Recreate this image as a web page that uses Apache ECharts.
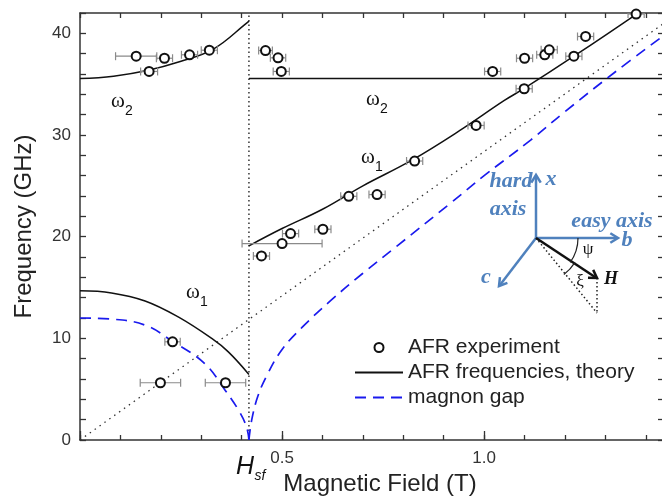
<!DOCTYPE html>
<html>
<head>
<meta charset="utf-8">
<script src="https://cdn.jsdelivr.net/npm/echarts@6/dist/echarts.min.js"></script>
<style>
  html, body { margin: 0; padding: 0; background: #fff; }
  #chart { width: 662px; height: 503px; }
</style>
</head>
<body>
<div id="chart"></div>
<script>
// experimental AFR points (field in T, frequency in GHz, half-width of field error bar)
const fieldExp = [0.139, 0.171, 0.209, 0.271, 0.320, 0.459, 0.490, 0.498, 1.021, 1.100, 1.099, 1.150, 1.161, 1.222, 1.251, 1.376, 0.980, 0.828, 0.735, 0.665, 0.521, 0.601, 0.500, 0.449, 0.229, 0.199, 0.360];
const freqExp = [37.75, 36.25, 37.55, 37.89, 38.34, 38.31, 37.59, 36.25, 36.25, 37.55, 34.55, 37.89, 38.38, 37.75, 39.69, 41.9, 30.94, 27.44, 24.14, 23.97, 20.30, 20.73, 19.32, 18.10, 9.66, 5.63, 5.63];
const errExp = [0.051, 0.021, 0.02, 0.02, 0.02, 0.017, 0.019, 0.02, 0.02, 0.02, 0.02, 0.02, 0.02, 0.02, 0.02, 0.02, 0.02, 0.02, 0.02, 0.02, 0.02, 0.02, 0.099, 0.02, 0.019, 0.05, 0.05];

const hsf = 0.418;

// theory curves
const omega2Left = [[0, 35.55], [0.083, 35.79], [0.166, 36.35], [0.248, 37.23], [0.331, 38.48], [0.413, 41.03], [0.418, 41.2]];
const omega2Right = [[0.418, 35.55], [1.445, 35.55]];
const omega1Left = [[0, 14.67], [0.078, 14.47], [0.161, 13.68], [0.243, 12.11], [0.326, 9.99], [0.367, 8.67], [0.418, 6.45]];
const omega1Right = [[0.418, 19.1], [0.5, 20.8], [0.6, 22.7], [0.7, 25.0], [0.82, 27.5], [0.94, 30.45], [1.05, 33.4], [1.1, 34.6], [1.222, 37.75], [1.377, 41.9], [1.4, 42.6]];
const gapLeft = [[0, 12.0], [0.078, 11.89], [0.161, 11.3], [0.229, 9.7], [0.309, 7.5], [0.359, 4.9], [0.392, 2.95], [0.412, 1.3], [0.418, 0]];
const gapRight = [[0.418, 0], [0.425, 2.0], [0.44, 4.3], [0.463, 6.4], [0.5, 8.9], [0.55, 11.1], [0.62, 13.7], [0.7, 16.4], [0.785, 19.1], [0.917, 23.3], [1.0, 26.0], [1.115, 29.5], [1.197, 32.2], [1.321, 36.1], [1.445, 39.8]];
const freeLine = [[0, 0], [1.445, 41.0]];
const hsfLine = [[hsf, 0], [hsf, 42]];

const xTickLabels = [0.5, 1.0];
const yTickLabels = [0, 10, 20, 30, 40];

const sans = "'Liberation Sans', Arial, sans-serif";
const serif = "'Liberation Serif', 'Times New Roman', serif";
const axisColor = "#333";
const blue = "#4f81bd";

function xLabel(v) {
  const hit = xTickLabels.find(t => Math.abs(t - v) < 1e-6);
  return hit === undefined ? "" : hit.toFixed(1);
}

function yLabel(v) {
  const hit = yTickLabels.find(t => Math.abs(t - v) < 1e-6);
  return hit === undefined ? "" : String(hit);
}

function chevron(x1, y1, x2, y2, size, color, width) {
  const a = Math.atan2(y2 - y1, x2 - x1);
  const p1 = [x2 - size * Math.cos(a - 0.55), y2 - size * Math.sin(a - 0.55)];
  const p2 = [x2 - size * Math.cos(a + 0.55), y2 - size * Math.sin(a + 0.55)];
  return { type: "polyline", shape: { points: [p1, [x2, y2], p2] }, style: { stroke: color, lineWidth: width, fill: null } };
}

function seg(x1, y1, x2, y2, color, width, dash) {
  return { type: "line", shape: { x1, y1, x2, y2 }, style: { stroke: color, lineWidth: width, lineDash: dash || null } };
}

function txt(x, y, text, font, color, align) {
  return { type: "text", x, y, style: { text, font, fill: color, align: align || "center", verticalAlign: "middle" } };
}

function inset() {
  const ox = 536, oy = 238;
  return [
    seg(ox, oy, ox, 176, blue, 2.5),
    chevron(ox, oy, ox, 175, 9, blue, 2.5),
    seg(ox, oy, 617, oy, blue, 2.5),
    chevron(ox, oy, 618, oy, 9, blue, 2.5),
    seg(ox, oy, 500, 285, blue, 2.5),
    chevron(ox, oy, 499, 286, 9, blue, 2.5),
    seg(ox, oy, 597, 313, "#222", 1.5, [1.5, 2.5]),
    seg(597, 278, 597, 313, "#222", 1.5, [1.5, 2.5]),
    seg(ox, oy, 595, 277, "#111", 2.5),
    chevron(ox, oy, 597, 278, 9, "#111", 2.5),
    { type: "arc", shape: { cx: ox, cy: oy, r: 42, startAngle: 0, endAngle: 0.62, clockwise: true }, style: { stroke: "#222", lineWidth: 1.2, fill: null } },
    { type: "arc", shape: { cx: ox, cy: oy, r: 46, startAngle: 0.56, endAngle: 0.92, clockwise: true }, style: { stroke: "#222", lineWidth: 1.2, fill: null } },
    txt(511, 181, "hard", "italic bold 22px " + serif, blue),
    txt(508, 209, "axis", "italic bold 22px " + serif, blue),
    txt(551, 179, "x", "italic bold 22px " + serif, blue),
    txt(612, 221, "easy axis", "italic bold 22px " + serif, blue),
    txt(627, 240, "b", "italic bold 22px " + serif, blue),
    txt(486, 277, "c", "italic bold 22px " + serif, blue),
    txt(611, 279, "H", "italic bold 18px " + serif, "#111"),
    txt(588, 250, "\u03c8", "17px " + serif, "#111"),
    txt(580, 282, "\u03be", "17px " + serif, "#111"),
  ];
}

function omega(x, y, sub) {
  return [
    txt(x, y, "\u03c9", "21px " + serif, "#111"),
    txt(x + 11, y + 10, sub, "14px " + sans, "#111"),
  ];
}

const chart = echarts.init(document.getElementById("chart"), null, { renderer: "canvas" });

const lineBase = { type: "line", symbol: "none", showSymbol: false, silent: true, z: 2 };
const theoryStyle = { color: "#111", width: 1.5 };
const gapStyle = { color: "#1a1aee", width: 1.7, type: [11, 7] };
const noMarker = { color: "rgba(0,0,0,0)", borderWidth: 0, opacity: 0 };

chart.setOption({
  animation: false,
  backgroundColor: "#fff",
  textStyle: { fontFamily: sans },
  grid: { left: 80, top: 13, width: 584, height: 427, containLabel: false, outerBoundsMode: "none" },
  legend: {
    data: [
      { name: "AFR experiment" },
      { name: "AFR frequencies, theory", itemStyle: noMarker },
      { name: "magnon gap", itemStyle: noMarker },
    ],
    orient: "vertical",
    left: 349,
    top: 330,
    itemWidth: 48,
    itemHeight: 9,
    itemGap: 0,
    selectedMode: false,
    textStyle: { fontSize: 21, color: "#222", lineHeight: 25, fontFamily: sans },
  },
  xAxis: [
    {
      type: "value", position: "bottom", min: 0, max: 1.445, interval: 0.1,
      axisLine: { onZero: false, lineStyle: { color: axisColor, width: 1.5 } },
      axisTick: { inside: true, length: 5, lineStyle: { color: axisColor, width: 1.3 } },
      axisLabel: { formatter: xLabel, fontSize: 17, color: "#333", margin: 10, fontFamily: sans },
      splitLine: { show: false },
      name: "Magnetic Field (T)", nameLocation: "middle", nameGap: 31,
      nameTextStyle: { fontSize: 24, color: "#222", fontFamily: sans, padding: [0, 0, 0, 16] },
    },
    {
      type: "value", position: "bottom", min: 0, max: 1.445, interval: 0.5,
      axisLine: { show: false },
      axisTick: { inside: true, length: 9, lineStyle: { color: axisColor, width: 1.3 } },
      axisLabel: { show: false }, splitLine: { show: false },
    },
    {
      type: "value", position: "top", min: 0, max: 1.445, interval: 0.1,
      axisLine: { onZero: false, lineStyle: { color: axisColor, width: 1.5 } },
      axisTick: { inside: true, length: 5, lineStyle: { color: axisColor, width: 1.3 } },
      axisLabel: { show: false }, splitLine: { show: false },
    },
  ],
  yAxis: [
    {
      type: "value", position: "left", min: 0, max: 42, interval: 2,
      axisLine: { onZero: false, lineStyle: { color: axisColor, width: 1.5 } },
      axisTick: { inside: true, length: 6, lineStyle: { color: axisColor, width: 1.3 } },
      axisLabel: { formatter: yLabel, fontSize: 17, color: "#333", margin: 9, fontFamily: sans },
      splitLine: { show: false },
      name: "Frequency (GHz)", nameLocation: "middle", nameGap: 44, nameRotate: 90,
      nameTextStyle: { fontSize: 24, color: "#222", fontFamily: sans },
    },
    {
      type: "value", position: "right", min: 0, max: 42, interval: 2,
      axisLine: { onZero: false, lineStyle: { color: axisColor, width: 1.5 } },
      axisTick: { inside: true, length: 6, lineStyle: { color: axisColor, width: 1.3 } },
      axisLabel: { show: false }, splitLine: { show: false },
    },
  ],
  series: [
    { ...lineBase, name: "free", data: freeLine, lineStyle: { color: "#333", width: 1.3, type: [1.5, 4.5] }, z: 1 },
    { ...lineBase, name: "hsf", data: hsfLine, lineStyle: { color: "#333", width: 1.5, type: [1.5, 3] }, z: 1 },
    { ...lineBase, name: "AFR frequencies, theory", data: omega2Left, smooth: 0.4, lineStyle: theoryStyle, itemStyle: { color: "#111" } },
    { ...lineBase, name: "AFR frequencies, theory", data: omega2Right, lineStyle: theoryStyle, itemStyle: { color: "#111" } },
    { ...lineBase, name: "AFR frequencies, theory", data: omega1Left, smooth: 0.4, lineStyle: theoryStyle, itemStyle: { color: "#111" } },
    { ...lineBase, name: "AFR frequencies, theory", data: omega1Right, smooth: 0.4, lineStyle: theoryStyle, itemStyle: { color: "#111" } },
    { ...lineBase, name: "magnon gap", data: gapLeft, smooth: 0.4, lineStyle: gapStyle, itemStyle: { color: "#1a1aee" } },
    { ...lineBase, name: "magnon gap", data: gapRight, smooth: 0.4, lineStyle: gapStyle, itemStyle: { color: "#1a1aee" } },
    {
      type: "custom", name: "errors", silent: true, clip: true, z: 3,
      data: fieldExp.map((x, i) => [x, freqExp[i], errExp[i]]),
      encode: { x: 0, y: 1 },
      renderItem(params, api) {
        const x = api.value(0), y = api.value(1), e = api.value(2);
        const a = api.coord([x - e, y]);
        const b = api.coord([x + e, y]);
        const st = { stroke: "#8a8a8a", lineWidth: 1.2 };
        return {
          type: "group",
          children: [
            { type: "line", shape: { x1: a[0], y1: a[1], x2: b[0], y2: b[1] }, style: st },
            { type: "line", shape: { x1: a[0], y1: a[1] - 4, x2: a[0], y2: a[1] + 4 }, style: st },
            { type: "line", shape: { x1: b[0], y1: b[1] - 4, x2: b[0], y2: b[1] + 4 }, style: st },
          ],
        };
      },
    },
    {
      type: "scatter", name: "AFR experiment", z: 5, silent: true,
      data: fieldExp.map((x, i) => [x, freqExp[i]]),
      symbol: "circle", symbolSize: 9,
      itemStyle: { color: "#fff", borderColor: "#111", borderWidth: 2, opacity: 1 },
    },
  ],
  graphic: [
    ...omega(118, 101, "2"),
    ...omega(373, 99, "2"),
    ...omega(368, 157, "1"),
    ...omega(193, 292, "1"),
    txt(245, 467, "H", "italic 25px " + sans, "#111"),
    txt(260, 476, "sf", "italic 14px " + sans, "#111"),
    ...inset(),
  ],
});
</script>
</body>
</html>
